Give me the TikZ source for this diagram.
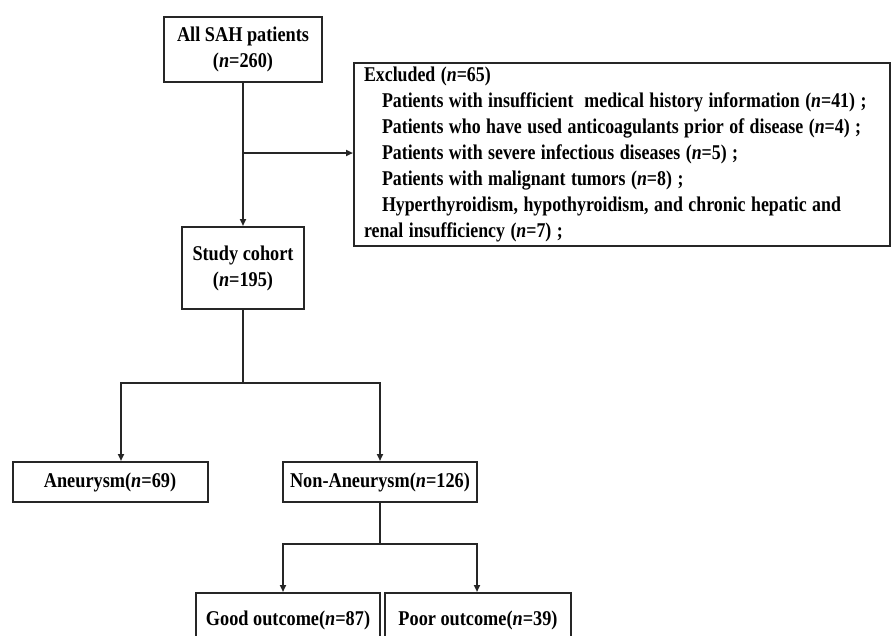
\documentclass[tikz,border=0pt]{standalone}
\usepackage{fontspec}
\setmainfont{Liberation Serif}[FakeStretch=0.87]
\newfontfamily\exfont{Liberation Serif}[FakeStretch=0.85]
\usetikzlibrary{arrows.meta}
\begin{document}
\begin{tikzpicture}[x=1pt,y=-1pt,
  txt/.style={font=\fontsize{21}{26}\selectfont\bfseries},
  box/.style={txt, draw=black!85, line width=2pt, inner sep=0pt, align=center},
  conn/.style={draw=black!85, line width=2pt},
  arr/.style={conn, -{Triangle[length=7pt,width=6pt]}}]
\useasboundingbox (0,0) rectangle (891,635);
\clip (0,0) rectangle (891,635);
\node[box, minimum width=158pt, minimum height=65pt] (sah) at (243,49.5) {All SAH patients\\(\textit{n}=260)};
\node[box, minimum width=122pt, minimum height=82pt] (cohort) at (243,268) {Study cohort\\(\textit{n}=195)};
\node[box, anchor=north west, text width=516pt, inner xsep=10pt, minimum height=183pt, align=left,
  font=\fontsize{21}{26}\exfont\bfseries] (excl) at (353,62) {%
\spaceskip=5.5pt plus 1pt minus 1pt
\mbox{Excluded (\textit{n}=65)}\\
\mbox{\hspace*{18pt}Patients with insufficient\ \ medical history information (\textit{n}=41) ;}\\
\mbox{\hspace*{18pt}Patients who have used anticoagulants prior of disease (\textit{n}=4) ;}\\
\mbox{\hspace*{18pt}Patients with severe infectious diseases (\textit{n}=5) ;}\\
\mbox{\hspace*{18pt}Patients with malignant tumors (\textit{n}=8) ;}\\
\mbox{\hspace*{18pt}Hyperthyroidism, hypothyroidism, and chronic hepatic and}\\
\mbox{renal insufficiency (\textit{n}=7) ;}};
\node[box, minimum width=195pt, minimum height=40pt] (aneu) at (110,482) {Aneurysm(\textit{n}=69)};
\node[box, minimum width=194pt, minimum height=40pt] (non) at (380,482) {Non-Aneurysm(\textit{n}=126)};
\node[box, minimum width=184pt, minimum height=54pt] (good) at (288,620) {Good outcome(\textit{n}=87)};
\node[box, minimum width=186pt, minimum height=54pt] (poor) at (478,620) {Poor outcome(\textit{n}=39)};
% connectors
\draw[arr] (sah) -- (cohort);
\coordinate (b1) at (243,153);
\draw[arr] (b1) -- (excl.west |- b1);
\coordinate (j1) at (243,383);
\coordinate (ja) at (121,383);
\coordinate (jn) at (380,383);
\draw[conn] (cohort) -- (j1);
\draw[arr] (j1) -- (ja) -- (ja |- aneu.north);
\draw[arr] (j1) -- (jn) -- (non.north);
\coordinate (j2) at (380,544);
\coordinate (jg) at (283,544);
\coordinate (jp) at (477,544);
\draw[conn] (non) -- (j2);
\draw[arr] (j2) -- (jg) -- (jg |- good.north);
\draw[arr] (j2) -- (jp) -- (jp |- poor.north);
\end{tikzpicture}
\end{document}
